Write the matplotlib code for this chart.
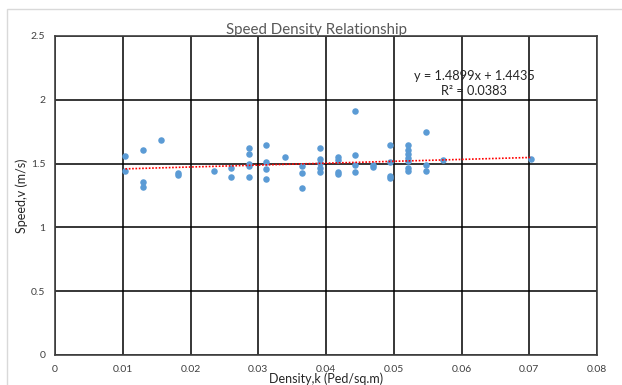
import matplotlib
matplotlib.use("Agg")
import matplotlib.pyplot as plt
from matplotlib.patches import Rectangle
import numpy as np

plt.rcParams['font.family'] = ['Lato', 'DejaVu Sans']

density = [0.0104, 0.0104,
           0.0130, 0.0130, 0.0130,
           0.0156,
           0.0182, 0.0182,
           0.0234,
           0.0260, 0.0260,
           0.0286, 0.0286, 0.0286, 0.0286, 0.0286,
           0.0312, 0.0312, 0.0312, 0.0312,
           0.0339,
           0.0365, 0.0365, 0.0365,
           0.0391, 0.0391, 0.0391, 0.0391, 0.0391,
           0.0417, 0.0417, 0.0417, 0.0417,
           0.0443, 0.0443, 0.0443, 0.0443,
           0.0469, 0.0469,
           0.0495, 0.0495, 0.0495, 0.0495,
           0.0521, 0.0521, 0.0521, 0.0521, 0.0521, 0.0521, 0.0521,
           0.0547, 0.0547, 0.0547,
           0.0573,
           0.0703]
speed = [1.56, 1.444,
         1.609, 1.353, 1.317,
         1.682,
         1.424, 1.408,
         1.444,
         1.463, 1.398,
         1.622, 1.578, 1.497, 1.48, 1.393,
         1.646, 1.513, 1.46, 1.377,
         1.549,
         1.481, 1.424, 1.309,
         1.622, 1.534, 1.502, 1.463, 1.437,
         1.554, 1.528, 1.437, 1.418,
         1.910, 1.567, 1.489, 1.437,
         1.487, 1.47,
         1.646, 1.513, 1.403, 1.39,
         1.646, 1.607, 1.575, 1.546, 1.52, 1.463, 1.444,
         1.745, 1.489, 1.44,
         1.528,
         1.538]

slope = 1.4899
intercept = 1.4435
r2 = 0.0383

x_ticks = [0, 0.01, 0.02, 0.03, 0.04, 0.05, 0.06, 0.07, 0.08]
x_labels = ['0', '0.01', '0.02', '0.03', '0.04', '0.05', '0.06', '0.07', '0.08']
y_ticks = [0, 0.5, 1, 1.5, 2, 2.5]
y_labels = ['0', '0.5', '1', '1.5', '2', '2.5']

fig = plt.figure(figsize=(6.22, 3.85), dpi=100)
fig.patches.append(Rectangle((7/622, -0.01), 1.0, 1 - 9/385 + 0.01,
                             transform=fig.transFigure, fill=False,
                             edgecolor='#d9d9d9', linewidth=1.0))
ax = fig.add_axes([55/622, 1 - 355/385, (597 - 55)/622, (355 - 36)/385])

ax.set_xlim(0, 0.08)
ax.set_ylim(0, 2.5)
ax.set_xticks(x_ticks)
ax.set_xticklabels(x_labels)
ax.set_yticks(y_ticks)
ax.set_yticklabels(y_labels)
ax.tick_params(length=0, labelsize=7.5, colors='#404040', pad=7)
ax.grid(True, color='black', linewidth=1.1)
ax.set_axisbelow(True)
for s in ax.spines.values():
    s.set_color('#404040')
    s.set_linewidth(1.2)

ax.scatter(density, speed, s=22, color='#5B9BD5', zorder=3, linewidths=0)

xs = np.array([min(density), max(density)])
ax.plot(xs, slope * xs + intercept, color='#FF0000', linestyle=(0, (1, 1)),
        linewidth=1.2, zorder=4)

ax.text(0.0619, 2.185, f'y = {slope}x + {intercept}', ha='center', va='center',
        fontsize=9.2, color='#262626', zorder=5)
ax.text(0.0619, 2.07, f'R² = {r2}', ha='center', va='center',
        fontsize=9.2, color='#262626', zorder=5)

fig.text(316/622, 1 - 34/385, 'Speed Density Relationship', ha='center',
         va='baseline', fontsize=10.8, color='#595959')
ax.set_xlabel('Density,k (Ped/sq.m)', fontsize=9, color='#262626', labelpad=-1)
ax.set_ylabel('Speed,v (m/s)', fontsize=9, color='#262626', labelpad=2)

fig.savefig('out.png', dpi=100)
